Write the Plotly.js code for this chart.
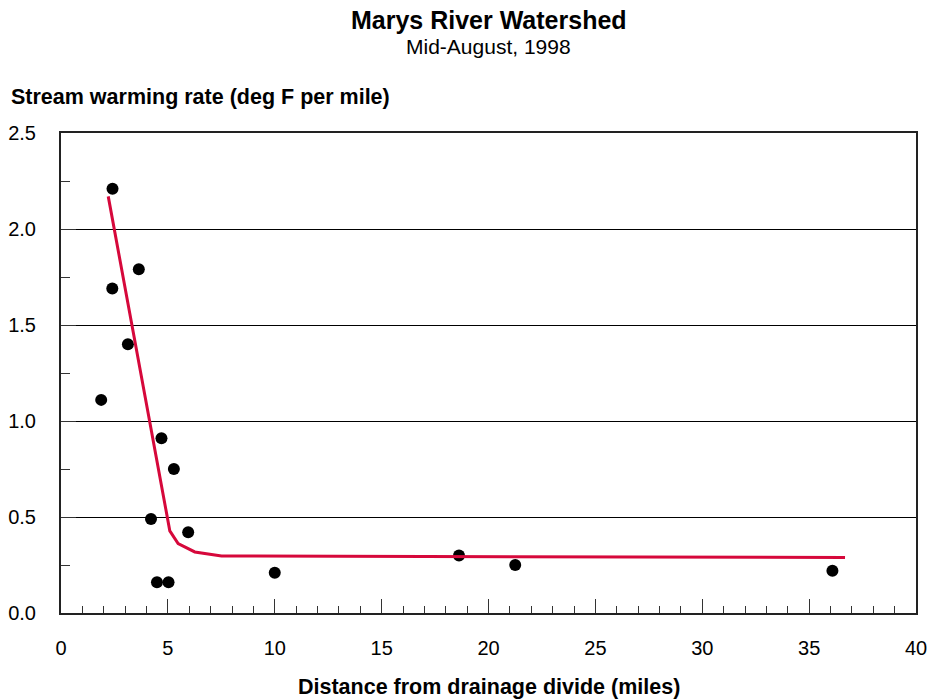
<!DOCTYPE html>
<html>
<head>
<meta charset="utf-8">
<script src="https://cdn.plot.ly/plotly-3.0.1.min.js"></script>
<style>html,body{margin:0;padding:0;background:#fff;}#chart{width:929px;height:700px;}</style>
</head>
<body>
<div id="chart"></div>
<script>
// Observed sites: distance from drainage divide (miles) and warming rate (deg F per mile)
var siteDistance = [1.88, 2.40, 2.41, 3.13, 3.64, 4.21, 4.49, 4.70, 5.03, 5.28, 5.95, 10.0, 18.62, 21.25, 36.09];
var siteRate     = [1.11, 1.69, 2.21, 1.40, 1.79, 0.49, 0.16, 0.91, 0.16, 0.75, 0.42, 0.21, 0.30, 0.25, 0.22];

// Fitted curve
var fitDistance = [2.21, 5.09, 5.48, 6.26, 7.51, 36.68];
var fitRate     = [2.17, 0.428, 0.362, 0.318, 0.297, 0.289];

var chartTitle = "Marys River Watershed";
var chartSubtitle = "Mid-August, 1998";
var yTitle = "Stream warming rate (deg F per mile)";
var xTitle = "Distance from drainage divide (miles)";

var FONT = "Liberation Sans, Arial, Helvetica, sans-serif";

var traces = [
  {
    x: siteDistance, y: siteRate, type: "scatter", mode: "markers",
    marker: {color: "#000000", size: 12},
    hoverinfo: "x+y", showlegend: false
  },
  {
    x: fitDistance, y: fitRate, type: "scatter", mode: "lines",
    line: {color: "#d6083b", width: 3},
    hoverinfo: "x+y", showlegend: false
  }
];

var W = 855, H = 480, L = 61, T = 133;
function px2paperX(px){ return (px - L) / W; }
function px2paperY(py){ return 1 - (py - T) / H; }

var layout = {
  width: 929, height: 700,
  margin: {l: L, r: 13, t: T, b: 87, pad: 0},
  paper_bgcolor: "#ffffff", plot_bgcolor: "#ffffff",
  font: {family: FONT, color: "#000000", size: 20},
  showlegend: false,
  xaxis: {
    range: [0, 40], dtick: 5, tick0: 0,
    ticks: "inside", ticklen: 14, tickwidth: 1, tickcolor: "#333333",
    minor: {dtick: 1, ticks: "inside", ticklen: 7, tickwidth: 1, tickcolor: "#333333", showgrid: false},
    showgrid: false, zeroline: false,
    showline: true, linecolor: "#222222", linewidth: 2, mirror: true,
    tickfont: {family: FONT, size: 20, color: "#000"},
    ticklabelstandoff: 16,
    fixedrange: true
  },
  yaxis: {
    range: [0, 2.5], dtick: 0.5, tick0: 0, tickformat: ".1f",
    ticks: "inside", ticklen: 15, tickwidth: 1, tickcolor: "#333333",
    minor: {dtick: 0.25, ticks: "inside", ticklen: 9, tickwidth: 1, tickcolor: "#333333", showgrid: false},
    showgrid: true, gridcolor: "#000000", gridwidth: 1, zeroline: false,
    showline: true, linecolor: "#222222", linewidth: 2, mirror: true,
    tickfont: {family: FONT, size: 20, color: "#000"},
    ticklabelstandoff: 19,
    fixedrange: true
  },
  annotations: [
    {text: "<b>" + chartTitle + "</b>", xref: "paper", yref: "paper",
     x: 0.5, y: px2paperY(20), xanchor: "center", yanchor: "middle",
     showarrow: false, font: {family: FONT, size: 25, color: "#000"}},
    {text: chartSubtitle, xref: "paper", yref: "paper",
     x: 0.5, y: px2paperY(46), xanchor: "center", yanchor: "middle",
     showarrow: false, font: {family: FONT, size: 21, color: "#000"}},
    {text: "<b>" + yTitle + "</b>", xref: "paper", yref: "paper",
     x: px2paperX(9), y: px2paperY(97), xanchor: "left", yanchor: "middle",
     showarrow: false, font: {family: FONT, size: 21.5, color: "#000"}},
    {text: "<b>" + xTitle + "</b>", xref: "paper", yref: "paper",
     x: 0.5, y: px2paperY(687), xanchor: "center", yanchor: "middle",
     showarrow: false, font: {family: FONT, size: 21.5, color: "#000"}}
  ]
};

Plotly.newPlot("chart", traces, layout, {displayModeBar: false, staticPlot: true});
</script>
</body>
</html>
